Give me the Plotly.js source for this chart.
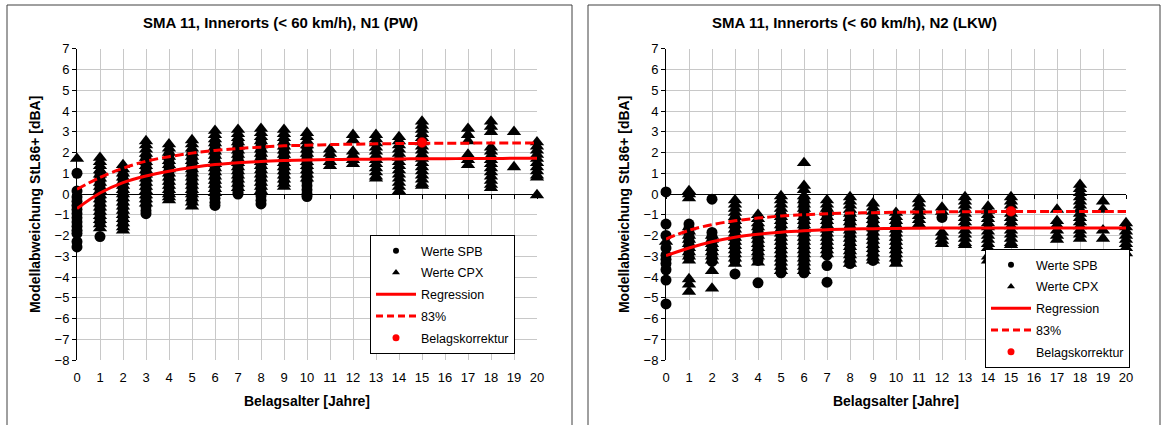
<!DOCTYPE html>
<html>
<head>
<meta charset="utf-8">
<script src="https://cdn.plot.ly/plotly-3.0.1.min.js"></script>
<style>html,body{margin:0;padding:0;background:#fff;}#chart{width:1163px;height:425px;}</style>
</head>
<body>
<div id="chart"></div>
<script>
// ---------------- DATA ----------------
const ages = [0,1,2,3,4,5,6,7,8,9,10,11,12,13,14,15,16,17,18,19,20];

// N1 (PW) – values per Belagsalter (index = age)
const n1Spb = [
  [1.0,0.15,-0.15,-0.35,-0.55,-0.75,-0.95,-1.15,-1.35,-1.55,-1.75,-1.9,-2.3,-2.55],
  [1.0,0.8,0.6,0.4,0.2,0.0,-0.2,-0.4,-0.6,-0.8,-1.0,-1.2,-1.4,-2.05],
  [0.9,0.7,0.5,0.3,0.1,-0.1,-0.3,-0.5,-0.7,-0.9,-1.1,-1.3,-1.5],
  [1.8,1.6,1.4,1.2,1.0,0.8,0.6,0.4,0.2,0.0,-0.2,-0.4,-0.6,-0.8,-0.95],
  [1.9,1.7,1.5,1.3,1.1,0.9,0.7,0.5,0.3,0.1,-0.1],
  [2.0,1.8,1.6,1.4,1.2,1.0,0.8,0.6,0.4,0.2,0.0,-0.2,-0.4],
  [2.4,2.2,2.0,1.8,1.6,1.4,1.2,1.0,0.8,0.6,0.4,0.2,0.0,-0.2,-0.4,-0.55],
  [2.5,2.3,2.1,1.9,1.7,1.5,1.3,1.1,0.9,0.7,0.5,0.3,0.1,0.0],
  [2.5,2.3,2.1,1.9,1.7,1.5,1.3,1.1,0.9,0.7,0.5,0.3,0.1,-0.1,-0.3,-0.48],
  [2.4,2.2,2.0,1.8,1.6,1.4,1.2,1.0,0.8,0.6],
  [2.2,2.0,1.8,1.6,1.4,1.2,1.0,0.8,0.6,0.4,0.2,0.0,-0.12],
  [],[],[],[],[],[],[],[],[],[]
];
const n1Cpx = [
  [1.7],
  [1.75,1.55,1.35,1.15,0.95,0.75,0.55,0.35,0.15,-0.05,-0.25,-0.45,-0.65,-0.85,-1.05,-1.25,-1.45,-1.65],
  [1.4,1.2,1.0,0.8,0.6,0.4,0.2,0.0,-0.2,-0.4,-0.6,-0.8,-1.0,-1.2,-1.4,-1.6,-1.75],
  [2.55,2.35,2.15,1.95,1.75,1.55,1.35,1.15,0.95,0.75,0.55,0.35,0.15,-0.05,-0.25,-0.45],
  [2.4,2.2,2.0,1.8,1.6,1.4,1.2,1.0,0.8,0.6,0.4,0.2,0.0,-0.15,-0.3],
  [2.6,2.4,2.2,2.0,1.8,1.6,1.4,1.2,1.0,0.8,0.6,0.4,0.2,0.0,-0.2,-0.4,-0.6],
  [3.05,2.85,2.65,2.45,2.25,2.05,1.85,1.65,1.45,1.25,1.05,0.85,0.65,0.45,0.25,0.05],
  [3.1,2.9,2.7,2.5,2.3,2.1,1.9,1.7,1.5,1.3,1.1,0.9,0.7,0.5,0.3],
  [3.15,2.95,2.75,2.55,2.35,2.15,1.95,1.75,1.55,1.35,1.15,0.95,0.75,0.55,0.35,0.15],
  [3.1,2.9,2.7,2.5,2.3,2.1,1.9,1.7,1.5,1.3,1.1,0.9,0.7,0.5,0.35],
  [2.95,2.75,2.55,2.35,2.15,1.95,1.75,1.55,1.35,1.15,0.95,0.75],
  [2.15,1.95,1.75,1.55,1.35],
  [2.85,2.6,2.05,1.85,1.65,1.45],
  [2.85,2.65,2.45,2.25,2.05,1.85,1.65,1.45,1.25,1.05,0.85,0.75],
  [2.75,2.55,2.35,2.15,1.95,1.75,1.55,1.35,1.15,0.95,0.75,0.55,0.35,0.15],
  [3.5,3.3,3.1,2.9,2.7,2.5,2.3,2.1,1.9,1.7,1.5,1.3,1.1,0.9,0.7,0.5,0.4],
  [],
  [3.15,2.85,2.55,1.9,1.65,1.4],
  [3.5,3.25,3.0,2.25,2.05,1.85,1.65,1.45,1.25,1.05,0.85,0.65,0.45,0.3],
  [3.0,1.3],
  [2.5,2.3,2.1,1.9,1.7,1.5,1.3,1.1,0.9,0.8,-0.05]
];
const n1Regression = [-0.70,0.05,0.55,0.87,1.10,1.28,1.42,1.51,1.57,1.61,1.64,1.66,1.67,1.68,1.69,1.70,1.70,1.71,1.71,1.72,1.72];
const n1Upper83   = [0.23,0.80,1.24,1.58,1.80,1.97,2.10,2.19,2.26,2.32,2.35,2.38,2.40,2.42,2.43,2.44,2.45,2.45,2.46,2.46,2.46];
const n1KorrekturAge = [15];
const n1Korrektur = [2.48];

// N2 (LKW)
const n2Spb = [
  [0.1,-1.45,-2.0,-2.6,-2.95,-3.15,-3.35,-3.65,-4.15,-5.3],
  [-1.45,-1.65,-1.85,-2.05,-2.25,-2.45,-2.65,-2.85,-3.05],
  [-0.25,-1.85,-2.05,-2.25,-2.45,-2.65,-2.85,-3.05,-3.25],
  [-1.2,-1.4,-1.6,-1.8,-2.0,-2.2,-2.4,-2.6,-2.8,-3.0,-3.2,-3.85],
  [-1.6,-1.8,-2.0,-2.2,-2.4,-2.6,-2.8,-3.0,-3.2,-4.28],
  [-1.0,-1.2,-1.4,-1.6,-1.8,-2.0,-2.2,-2.4,-2.6,-2.8,-3.0,-3.2,-3.4,-3.6,-3.8],
  [-0.3,-0.5,-0.7,-0.9,-1.1,-1.3,-1.5,-1.7,-1.9,-2.1,-2.3,-2.5,-2.7,-2.9,-3.1,-3.3,-3.5,-3.7,-3.8],
  [-0.8,-1.0,-1.2,-1.4,-1.6,-1.8,-2.0,-2.2,-2.4,-2.6,-2.8,-2.95,-3.45,-4.25],
  [-1.0,-1.2,-1.4,-1.6,-1.8,-2.0,-2.2,-2.4,-2.6,-2.8,-3.0,-3.2,-3.35],
  [-1.2,-1.4,-1.6,-1.8,-2.0,-2.2,-2.4,-2.6,-2.8,-3.0,-3.2],
  [-1.4,-1.6,-1.8,-2.0,-2.2,-2.4,-2.6,-2.8,-3.0,-3.2],
  [],
  [-1.13],
  [],[],[],[],[],[],[],[]
];
const n2Cpx = [
  [-2.3],
  [0.15,0.0,-0.2,-1.6,-1.8,-2.0,-2.2,-2.4,-2.6,-2.8,-3.0,-3.2,-4.1,-4.35,-4.7],
  [-2.0,-2.2,-2.4,-2.6,-2.8,-3.0,-3.2,-3.7,-4.55],
  [-0.3,-0.5,-0.7,-0.9,-1.1,-1.3,-1.5,-1.7,-1.9,-2.1,-2.3,-2.5,-2.7,-2.9,-3.1,-3.35],
  [-1.0,-1.2,-1.4,-1.6,-1.8,-2.0,-2.2,-2.4,-2.6,-2.8,-3.0,-3.3],
  [-0.1,-0.3,-0.5,-0.7,-0.9,-1.1,-1.3,-1.5,-1.7,-1.9,-2.1,-2.3,-2.5,-2.7,-2.9,-3.1,-3.3,-3.5,-3.7],
  [1.5,0.4,0.2,-0.1,-0.3,-0.5,-0.7,-0.9,-1.1,-1.3,-1.5,-1.7,-1.9,-2.1,-2.3,-2.5,-2.7,-2.9,-3.1,-3.3,-3.5,-3.7],
  [-0.3,-0.5,-0.7,-0.9,-1.1,-1.3,-1.5,-1.7,-1.9,-2.1,-2.3,-2.5,-2.7,-2.9],
  [-0.15,-0.35,-0.55,-0.75,-0.95,-1.15,-1.35,-1.55,-1.75,-1.95,-2.15,-2.35,-2.55,-2.75,-2.95,-3.15,-3.35],
  [-0.45,-0.65,-0.85,-1.05,-1.25,-1.45,-1.65,-1.85,-2.05,-2.25,-2.45,-2.65,-2.85,-3.05,-3.2],
  [-0.9,-1.1,-1.3,-1.5,-1.7,-1.9,-2.1,-2.3,-2.5,-2.7,-2.9,-3.1,-3.35],
  [-0.25,-0.45,-0.65,-0.85,-1.05,-1.25,-1.45],
  [-0.65,-0.85,-1.85,-2.05,-2.25,-2.4],
  [-0.15,-0.35,-0.55,-0.75,-0.95,-1.15,-1.35,-1.55,-1.75,-1.95,-2.15,-2.35,-2.45],
  [-0.6,-0.8,-1.0,-1.2,-1.4,-1.6,-1.8,-2.0,-2.2,-2.4,-2.6,-3.0,-3.2],
  [-0.15,-0.35,-0.55,-0.75,-0.95,-1.15,-1.35,-1.55,-1.75,-1.95,-2.15,-2.35,-2.45],
  [],
  [-0.75,-1.3,-1.5,-1.75,-2.0,-2.2],
  [0.45,0.25,0.05,-0.15,-0.35,-0.55,-0.75,-0.95,-1.15,-1.35,-1.55,-1.75,-1.95,-2.15],
  [-0.35,-0.75,-1.75,-2.15],
  [-1.4,-1.6,-1.8,-2.0,-2.2,-2.4,-2.6,-2.85]
];
const n2Regression = [-2.97,-2.60,-2.30,-2.08,-1.94,-1.84,-1.77,-1.72,-1.69,-1.67,-1.66,-1.65,-1.64,-1.64,-1.64,-1.64,-1.64,-1.64,-1.64,-1.64,-1.64];
const n2Upper83   = [-2.17,-1.75,-1.48,-1.29,-1.16,-1.06,-1.00,-0.95,-0.92,-0.90,-0.88,-0.87,-0.86,-0.85,-0.85,-0.84,-0.84,-0.84,-0.84,-0.84,-0.84];
const n2KorrekturAge = [15];
const n2Korrektur = [-0.83];

const titles = ['SMA 11, Innerorts (< 60 km/h), N1 (PW)', 'SMA 11, Innerorts (< 60 km/h), N2 (LKW)'];
const xTitle = 'Belagsalter [Jahre]';
const yTitle = 'Modellabweichung StL86+ [dBA]';
const legendNames = ['Werte SPB', 'Werte CPX', 'Regression', '83%', 'Belagskorrektur'];

// ---------------- BUILD ----------------
const W = 1163, H = 425;
const FONT = 'Arial, "Liberation Sans", Helvetica, sans-serif';
const RED = '#ff0000';

function flatten(byAge) {
  const xs = [], ys = [];
  byAge.forEach((vals, i) => vals.forEach(v => { xs.push(ages[i]); ys.push(v); }));
  return {x: xs, y: ys};
}

function panelTraces(spb, cpx, reg, up, kAge, kVal, xa, ya, legendId) {
  const s = flatten(spb), c = flatten(cpx);
  const tr = [
    {type:'scatter', mode:'markers', x:s.x, y:s.y, xaxis:xa, yaxis:ya, showlegend:false, cliponaxis:false,
     marker:{symbol:'circle', size:11, color:'#000'}},
    {type:'scatter', mode:'markers', x:c.x, y:c.y, xaxis:xa, yaxis:ya, showlegend:false, cliponaxis:false,
     marker:{symbol:'triangle-up', size:12.5, color:'#000'}},
    {type:'scatter', mode:'lines', x:ages, y:reg, xaxis:xa, yaxis:ya, showlegend:false,
     line:{color:RED, width:3, shape:'spline'}},
    {type:'scatter', mode:'lines', x:ages, y:up, xaxis:xa, yaxis:ya, showlegend:false,
     line:{color:RED, width:3, dash:'9px,4px', shape:'spline'}},
    {type:'scatter', mode:'markers', x:kAge, y:kVal, xaxis:xa, yaxis:ya, showlegend:false, cliponaxis:false,
     marker:{symbol:'circle', size:10, color:RED, line:{color:'#c00000', width:0.5}}}
  ];
  // legend entries (small symbols like the original)
  const lg = [
    {mode:'markers', marker:{symbol:'circle', size:6, color:'#000'}},
    {mode:'markers', marker:{symbol:'triangle-up', size:7, color:'#000'}},
    {mode:'lines', line:{color:RED, width:3}},
    {mode:'lines', line:{color:RED, width:3, dash:'7px,4px'}},
    {mode:'markers', marker:{symbol:'circle', size:7, color:RED}}
  ];
  lg.forEach((o, i) => {
    tr.push(Object.assign({type:'scatter', x:[null], y:[null], xaxis:xa, yaxis:ya, name:legendNames[i],
      showlegend:true, legend:legendId, legendgroup:legendId + '_' + i}, o));
  });
  return tr;
}

const data = [].concat(
  panelTraces(n1Spb, n1Cpx, n1Regression, n1Upper83, n1KorrekturAge, n1Korrektur, 'x', 'y', 'legend'),
  panelTraces(n2Spb, n2Cpx, n2Regression, n2Upper83, n2KorrekturAge, n2Korrektur, 'x2', 'y2', 'legend2'),
  [{type:'scatter', x:[], y:[], xaxis:'x3', yaxis:'y', showlegend:false},
   {type:'scatter', x:[], y:[], xaxis:'x4', yaxis:'y2', showlegend:false}]
);

const yTop = 48.75, yBot = 360;
const yDom = [(H - yBot) / H, (H - yTop) / H];
const zeroPos = (H - (yBot - 8 * (yBot - yTop) / 15)) / H;
const xDom1 = [77 / W, 537 / W];
const xDom2 = [666 / W, 1126 / W];

function xAxis(dom, anchor) {
  return {domain: dom, anchor: anchor, range: [0, 20], tickmode: 'linear', tick0: 0, dtick: 1,
    showgrid: true, gridcolor: '#c8c8c8', gridwidth: 1, zeroline: false, showline: false,
    ticks: '', ticklabelstandoff: 8, tickfont: {family: FONT, size: 13, color: '#000'},
    automargin: false, fixedrange: true,
    title: {text: '<b>' + xTitle + '</b>', font: {family: FONT, size: 14, color: '#000'}, standoff: 12}};
}
function yAxis(dom, anchor) {
  return {domain: dom, anchor: anchor, range: [-8, 7], tickmode: 'linear', tick0: 0, dtick: 1,
    showgrid: true, gridcolor: '#c8c8c8', gridwidth: 1, zeroline: true, zerolinecolor: '#000', zerolinewidth: 1,
    showline: true, linecolor: '#000', linewidth: 1, ticks: 'outside', ticklen: 4, tickcolor: '#000',
    tickfont: {family: FONT, size: 13, color: '#000'}, automargin: false, fixedrange: true,
    title: {text: '<b>' + yTitle + '</b>', font: {family: FONT, size: 14, color: '#000'}, standoff: 10}};
}
function tickAxis(over) {
  return {overlaying: over, anchor: 'free', position: zeroPos, range: [0, 20], tickmode: 'linear', tick0: 0, dtick: 1,
    ticks: 'outside', ticklen: 4, tickcolor: '#000', showticklabels: false, showgrid: false,
    zeroline: false, showline: false, fixedrange: true};
}
function legendCfg(px, py) {
  return {x: px / W, y: (H - py) / H, xanchor: 'left', yanchor: 'top', bgcolor: '#ffffff',
    bordercolor: '#000', borderwidth: 1, font: {family: FONT, size: 12.5, color: '#000'},
    itemwidth: 40, traceorder: 'grouped', tracegroupgap: 2.5, itemclick: false, itemdoubleclick: false};
}

const layout = {
  width: W, height: H, margin: {l: 0, r: 0, t: 0, b: 0},
  paper_bgcolor: '#fff', plot_bgcolor: '#fff',
  font: {family: FONT, color: '#000'},
  xaxis: xAxis(xDom1, 'y'), yaxis: yAxis(yDom, 'x'),
  xaxis2: xAxis(xDom2, 'y2'), yaxis2: yAxis(yDom, 'x2'),
  xaxis3: tickAxis('x'), xaxis4: tickAxis('x2'),
  legend: legendCfg(370, 235),
  legend2: legendCfg(985, 249),
  shapes: [
    {type: 'rect', xref: 'paper', yref: 'paper', x0: 7 / W, x1: 572 / W, y0: -0.02, y1: (H - 5) / H,
     line: {color: '#404040', width: 1}, fillcolor: 'rgba(0,0,0,0)', layer: 'below'},
    {type: 'rect', xref: 'paper', yref: 'paper', x0: 588 / W, x1: 1160 / W, y0: -0.02, y1: (H - 5) / H,
     line: {color: '#404040', width: 1}, fillcolor: 'rgba(0,0,0,0)', layer: 'below'}
  ],
  annotations: [
    {text: '<b>' + titles[0] + '</b>', xref: 'paper', yref: 'paper', x: 280 / W, y: (H - 23) / H,
     xanchor: 'center', yanchor: 'middle', showarrow: false, font: {family: FONT, size: 15, color: '#000'}},
    {text: '<b>' + titles[1] + '</b>', xref: 'paper', yref: 'paper', x: 854 / W, y: (H - 23) / H,
     xanchor: 'center', yanchor: 'middle', showarrow: false, font: {family: FONT, size: 15, color: '#000'}}
  ],
  showlegend: true
};

Plotly.newPlot('chart', data, layout, {staticPlot: true, displayModeBar: false});
</script>
</body>
</html>
